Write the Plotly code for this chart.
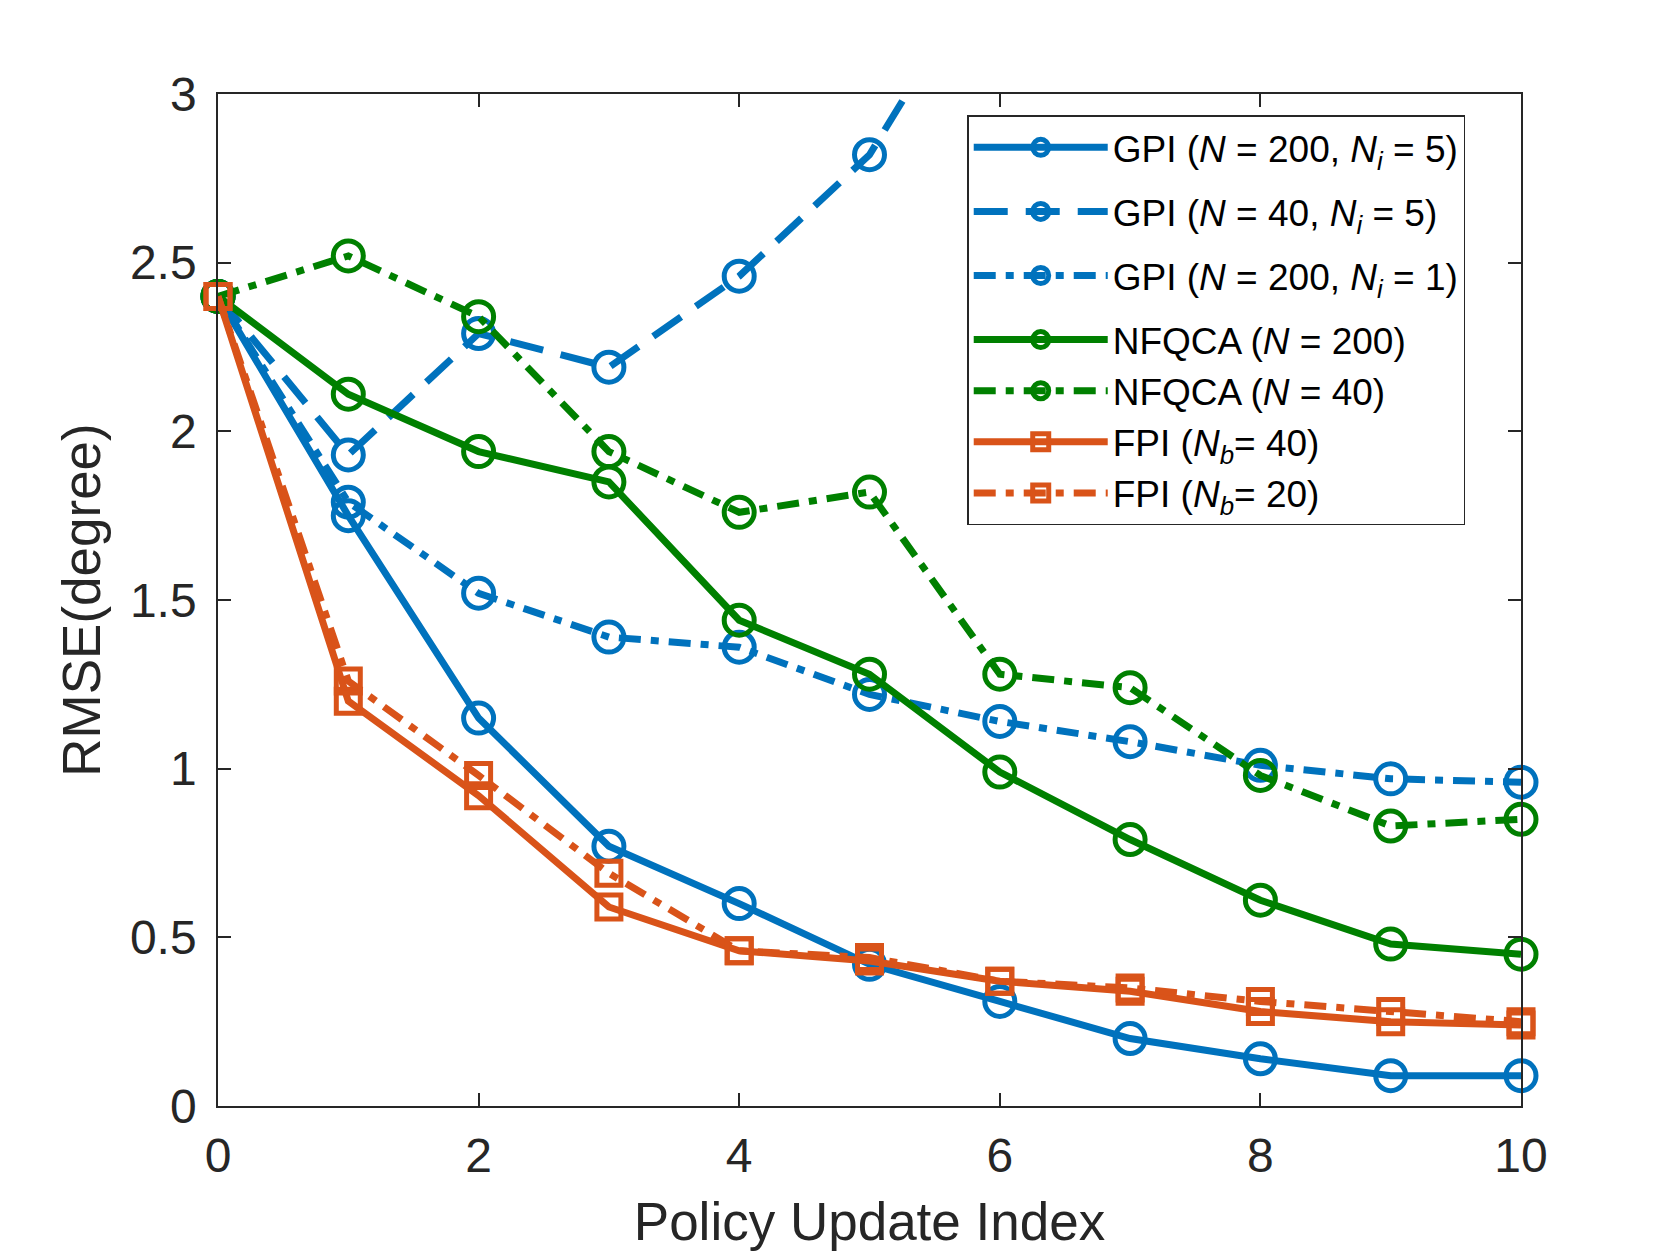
import plotly.graph_objects as go

# policy update index
idx = list(range(11))

# RMSE values (degree)
gpi_200_5 = [2.40, 1.75, 1.15, 0.77, 0.60, 0.42, 0.31, 0.20, 0.14, 0.09, 0.09]
gpi_40_5 = [2.40, 1.93, 2.29, 2.19, 2.46, 2.82, 3.45]
gpi_200_1 = [2.40, 1.79, 1.52, 1.39, 1.36, 1.22, 1.14, 1.08, 1.01, 0.97, 0.96]
nfqca_200 = [2.40, 2.11, 1.94, 1.85, 1.44, 1.28, 0.99, 0.79, 0.61, 0.48, 0.45]
nfqca_40 = [2.40, 2.52, 2.34, 1.94, 1.76, 1.82, 1.28, 1.24, 0.98, 0.83, 0.85]
fpi_40 = [2.40, 1.20, 0.92, 0.59, 0.46, 0.43, 0.37, 0.34, 0.28, 0.25, 0.24]
fpi_20 = [2.40, 1.26, 0.98, 0.69, 0.46, 0.44, 0.37, 0.35, 0.31, 0.28, 0.25]

names = [
    "GPI (<i>N</i> = 200, <i>N<sub>i</sub></i> = 5)",
    "GPI (<i>N</i> = 40, <i>N<sub>i</sub></i> = 5)",
    "GPI (<i>N</i> = 200, <i>N<sub>i</sub></i> = 1)",
    "NFQCA (<i>N</i> = 200)",
    "NFQCA (<i>N</i> = 40)",
    "FPI (<i>N<sub>b</sub></i>= 40)",
    "FPI (<i>N<sub>b</sub></i>= 20)",
]
# GPI rows sit a bit further apart in the legend
groups = ["g1", "g2", "g3", "g4", "g4", "g4", "g4"]

BLUE = "#0072BD"
GREEN = "#008000"
ORANGE = "#D95319"
AXC = "#262626"
FONT = "Liberation Sans, Arial, sans-serif"

DASH = "34px,18px"
DASHDOT = "22px,10px,8px,10px"

series = [
    (gpi_200_5, BLUE, "solid", "circle-open"),
    (gpi_40_5, BLUE, DASH, "circle-open"),
    (gpi_200_1, BLUE, DASHDOT, "circle-open"),
    (nfqca_200, GREEN, "solid", "circle-open"),
    (nfqca_40, GREEN, DASHDOT, "circle-open"),
    (fpi_40, ORANGE, "solid", "square-open"),
    (fpi_20, ORANGE, DASHDOT, "square-open"),
]

fig = go.Figure()
for (vals, color, dash, sym), name, grp in zip(series, names, groups):
    is_sq = sym.startswith("square")
    fig.add_trace(go.Scatter(
        x=idx[:len(vals)],
        y=vals,
        name=name,
        legendgroup=grp,
        mode="lines+markers",
        line=dict(color=color, width=7, dash=dash),
        marker=dict(symbol=sym, size=24 if is_sq else 30, color=color,
                    line=dict(color=color, width=5)),
        cliponaxis=False,
    ))

fig.update_layout(
    width=1680,
    height=1260,
    paper_bgcolor="white",
    plot_bgcolor="white",
    margin=dict(l=210, r=167, t=86, b=162),
    font=dict(family=FONT, size=48, color=AXC),
    showlegend=True,
    legend=dict(
        x=0.575, y=0.979, xanchor="left", yanchor="top",
        bgcolor="white", bordercolor=AXC, borderwidth=1.5,
        font=dict(family=FONT, size=37, color="black"),
        itemwidth=134,
        tracegroupgap=13,
    ),
    xaxis=dict(
        range=[0, 10], tickvals=[0, 2, 4, 6, 8, 10],
        showline=True, linecolor=AXC, linewidth=1.5, mirror="ticks",
        ticks="inside", ticklen=13, tickwidth=1.5, tickcolor=AXC,
        showgrid=False, zeroline=False,
        tickfont=dict(family=FONT, size=48, color=AXC),
        ticklabelstandoff=7,
        title=dict(text="Policy Update Index", standoff=22,
                   font=dict(family=FONT, size=53, color=AXC)),
    ),
    yaxis=dict(
        range=[0, 3], tickvals=[0, 0.5, 1, 1.5, 2, 2.5, 3],
        showline=True, linecolor=AXC, linewidth=1.5, mirror="ticks",
        ticks="inside", ticklen=13, tickwidth=1.5, tickcolor=AXC,
        showgrid=False, zeroline=False,
        tickfont=dict(family=FONT, size=48, color=AXC),
        ticklabelstandoff=10,
        title=dict(text="RMSE(degree)", standoff=12,
                   font=dict(family=FONT, size=53, color=AXC)),
    ),
)

fig.write_html("out.html")
